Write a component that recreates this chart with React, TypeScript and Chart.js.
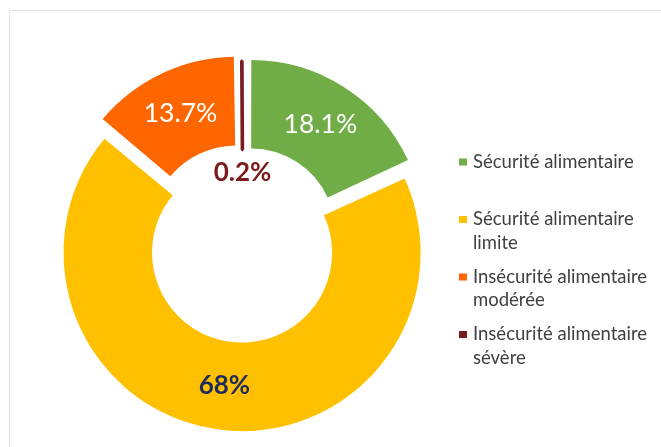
import React, { useEffect, useRef } from "react";
import { Chart, registerables } from "chart.js";

Chart.register(...registerables);

// ---- data ----
const categories = [
  "Sécurité alimentaire",
  "Sécurité alimentaire limite",
  "Insécurité alimentaire modérée",
  "Insécurité alimentaire sévère",
];
const legendLines = [
  ["Sécurité alimentaire"],
  ["Sécurité alimentaire", "limite"],
  ["Insécurité alimentaire", "modérée"],
  ["Insécurité alimentaire", "sévère"],
];
const values = [18.1, 68, 13.7, 0.2];
const valueLabels = ["18.1%", "68%", "13.7%", "0.2%"];

// ---- styles ----
const colors = ["#70AD47", "#FFC000", "#FF6600", "#7A1C1C"];
const explode = [60, 28, 60, 26];
const borderWidths = [0, 0, 0, 3.5];
const labelColors = ["#FFFFFF", "#1F2B5E", "#FFFFFF", "#7A1C1C"];
const labelFonts = [
  "normal 26.5px Lato",
  "bold 26px Lato",
  "normal 26.5px Lato",
  "bold 26px Lato",
];
const FONT = "Lato";

const sliceLabelPlugin = {
  id: "sliceLabels",
  afterDatasetsDraw(chart: any) {
    const meta = chart.getDatasetMeta(0);
    const ctx = chart.ctx as CanvasRenderingContext2D;
    ctx.save();
    ctx.textAlign = "center";
    ctx.textBaseline = "middle";
    meta.data.forEach((arc: any, i: number) => {
      const { x, y, startAngle, endAngle, innerRadius, outerRadius } =
        arc.getProps(
          ["x", "y", "startAngle", "endAngle", "innerRadius", "outerRadius"],
          true
        );
      const mid = (startAngle + endAngle) / 2;
      const off = explode[i] / 4;
      const fix = 1 - Math.sin(Math.min(Math.PI, endAngle - startAngle));
      let rr: number;
      if (i === 3) rr = innerRadius * 0.875;
      else rr = (innerRadius + outerRadius) / 2 + off + off * fix;
      const lx = x + Math.cos(mid) * rr;
      const ly = y + Math.sin(mid) * rr;
      ctx.font = labelFonts[i];
      ctx.fillStyle = labelColors[i];
      ctx.fillText(valueLabels[i], lx, ly);
    });
    ctx.restore();
  },
};

const legendPlugin = {
  id: "sideLegend",
  afterDraw(chart: any) {
    const ctx = chart.ctx as CanvasRenderingContext2D;
    const x0 = 459;
    const y0 = 162;
    const pitch = 57.5;
    const lineH = 23.5;
    ctx.save();
    ctx.textBaseline = "middle";
    ctx.textAlign = "left";
    ctx.font = `18.5px ${FONT}`;
    legendLines.forEach((lines, i) => {
      const y = y0 + i * pitch;
      ctx.fillStyle = colors[i];
      ctx.fillRect(x0, y - 3.5, 8, 7);
      ctx.fillStyle = "#404040";
      lines.forEach((t, j) => ctx.fillText(t, x0 + 14, y + j * lineH));
    });
    ctx.restore();
  },
};

export default function App() {
  const ref = useRef<HTMLCanvasElement>(null);
  useEffect(() => {
    if (!ref.current) return;
    const chart = new Chart(ref.current, {
      type: "doughnut",
      data: {
        labels: categories,
        datasets: [
          {
            data: values,
            backgroundColor: colors,
            borderColor: colors,
            borderWidth: borderWidths,
            offset: explode,
          },
        ],
      },
      options: {
        responsive: false,
        animation: false,
        cutout: "48.4%",
        rotation: 0,
        layout: {
          padding: { left: 39.65, right: 214.65, top: 42.25, bottom: 31.05 },
        },
        plugins: {
          legend: { display: false },
          tooltip: { enabled: false },
          title: { display: false },
        },
      },
      plugins: [sliceLabelPlugin, legendPlugin],
    });
    return () => chart.destroy();
  }, []);

  return (
    <div
      style={{
        position: "fixed",
        left: 0,
        top: 0,
        width: 661,
        height: 447,
        overflow: "hidden",
        background: "#ffffff",
      }}
    >
      <div
        style={{
          position: "absolute",
          left: 9,
          top: 10,
          width: 700,
          height: 500,
          border: "1px solid #e6e6e6",
        }}
      />
      <canvas
        ref={ref}
        width={661}
        height={480}
        style={{ position: "absolute", left: 0, top: 0, width: 661, height: 480 }}
      />
    </div>
  );
}
